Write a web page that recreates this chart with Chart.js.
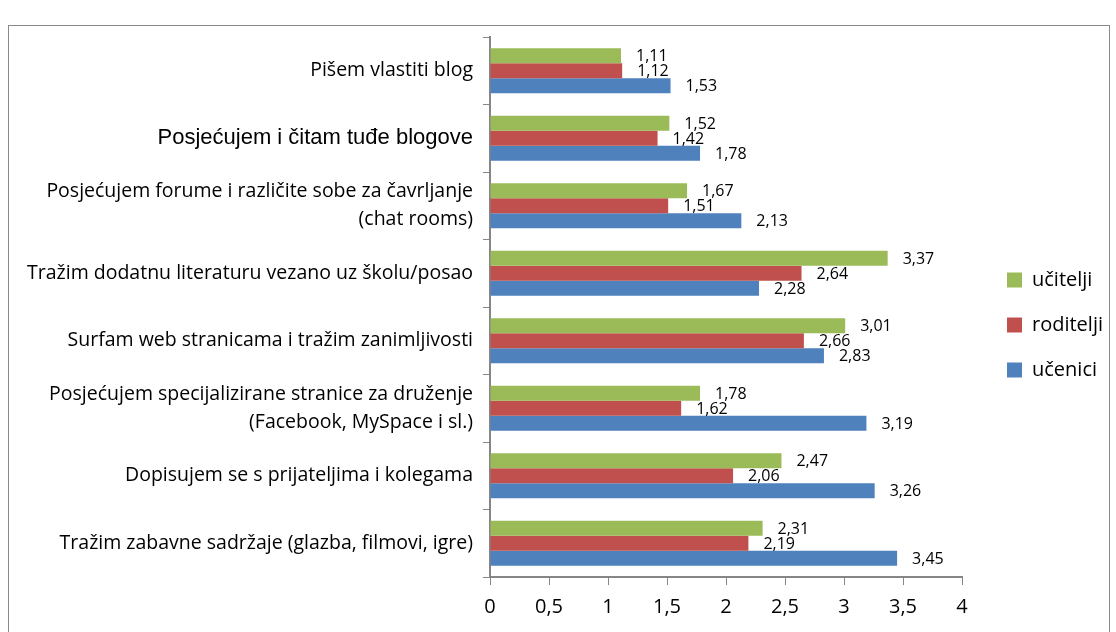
<!DOCTYPE html>
<html>
<head>
<meta charset="utf-8">
<script src="https://cdn.jsdelivr.net/npm/chart.js@4.4.1/dist/chart.umd.min.js"></script>
<style>
  html, body { margin: 0; padding: 0; background: #fff; }
  #wrap { position: relative; width: 1116px; height: 632px; }
  #frame { position: absolute; left: 8px; top: 25px; width: 1100px; height: 620px; border: 1px solid #8a8a8a; }
  canvas { position: absolute; left: 0; top: 0; }
</style>
</head>
<body>
<div id="wrap">
  <div id="frame"></div>
  <canvas id="chart" width="1116" height="632"></canvas>
</div>
<script>
// categories, top to bottom
const categories = [
    'Pišem vlastiti blog',
    'Posjećujem i čitam tuđe blogove',
    ['Posjećujem forume i različite sobe za čavrljanje', '(chat rooms)'],
    'Tražim dodatnu literaturu vezano uz školu/posao',
    'Surfam web stranicama i tražim zanimljivosti',
    ['Posjećujem specijalizirane stranice za druženje', '(Facebook, MySpace i sl.)'],
    'Dopisujem se s prijateljima i kolegama',
    'Tražim zabavne sadržaje (glazba, filmovi, igre)'
];

const seriesNames = ['učitelji', 'roditelji', 'učenici'];
const ucitelji  = [1.11, 1.52, 1.67, 3.37, 3.01, 1.78, 2.47, 2.31];
const roditelji = [1.12, 1.42, 1.51, 2.64, 2.66, 1.62, 2.06, 2.19];
const ucenici   = [1.53, 1.78, 2.13, 2.28, 2.83, 3.19, 3.26, 3.45];

const xTicks = [0, 0.5, 1, 1.5, 2, 2.5, 3, 3.5, 4];

const colors = ['#9bbb59', '#c0504d', '#4f81bd'];
const axisColor = '#868686';

function fmt(v) {
    return String(v).replace('.', ',');
}

// value labels to the right of each bar
const valueLabels = {
    id: 'valueLabels',
    afterDatasetsDraw(chart) {
        const ctx = chart.ctx;
        ctx.save();
        ctx.font = '16px "Open Sans"';
        ctx.fillStyle = '#000';
        ctx.textAlign = 'left';
        ctx.textBaseline = 'middle';
        chart.data.datasets.forEach((ds, i) => {
            const meta = chart.getDatasetMeta(i);
            meta.data.forEach((bar, j) => {
                ctx.fillText(fmt(ds.data[j]), bar.x + 15, bar.y + 1);
            });
        });
        ctx.restore();
    }
};

// nudge the legend block to where it sits in the original
const legendShift = {
    id: 'legendShift',
    afterLayout(chart) {
        const lg = chart.legend;
        if (!lg) return;
        lg.left += 20; lg.right += 20;
        lg.top -= 8; lg.bottom -= 8;
    }
};

new Chart(document.getElementById('chart'), {
    type: 'bar',
    data: {
        labels: categories,
        datasets: [
            { label: seriesNames[0], data: ucitelji, backgroundColor: colors[0] },
            { label: seriesNames[1], data: roditelji, backgroundColor: colors[1] },
            { label: seriesNames[2], data: ucenici, backgroundColor: colors[2] }
        ]
    },
    options: {
        indexAxis: 'y',
        responsive: false,
        animation: false,
        categoryPercentage: 0.67,
        barPercentage: 1,
        layout: { padding: { top: 37, right: 23, bottom: 3, left: 0 } },
        plugins: {
            tooltip: { enabled: false },
            legend: {
                position: 'right',
                labels: {
                    boxWidth: 15,
                    boxHeight: 15,
                    padding: 25,
                    color: '#000',
                    font: { family: 'Open Sans', size: 20 }
                }
            }
        },
        scales: {
            y: {
                afterFit(scale) { scale.width = 490; },
                grid: {
                    drawOnChartArea: false,
                    tickLength: 7,
                    color: axisColor,
                    offset: true
                },
                border: { color: axisColor, width: 2 },
                ticks: {
                    color: '#000',
                    padding: 10,
                    font: (c) => c.index === 1
                        ? { family: 'Liberation Sans', size: 22 }
                        : { family: 'Open Sans', size: 19.5, lineHeight: 1.45 }
                }
            },
            x: {
                min: 0,
                max: 4,
                afterBuildTicks(scale) {
                    scale.ticks = xTicks.map(v => ({ value: v }));
                },
                grid: {
                    drawOnChartArea: false,
                    tickLength: 8,
                    color: axisColor
                },
                border: { color: axisColor, width: 2 },
                ticks: {
                    color: '#000',
                    padding: 10,
                    font: { family: 'Open Sans', size: 20 },
                    callback: (v) => fmt(v)
                }
            }
        }
    },
    plugins: [valueLabels, legendShift]
});
</script>
</body>
</html>
